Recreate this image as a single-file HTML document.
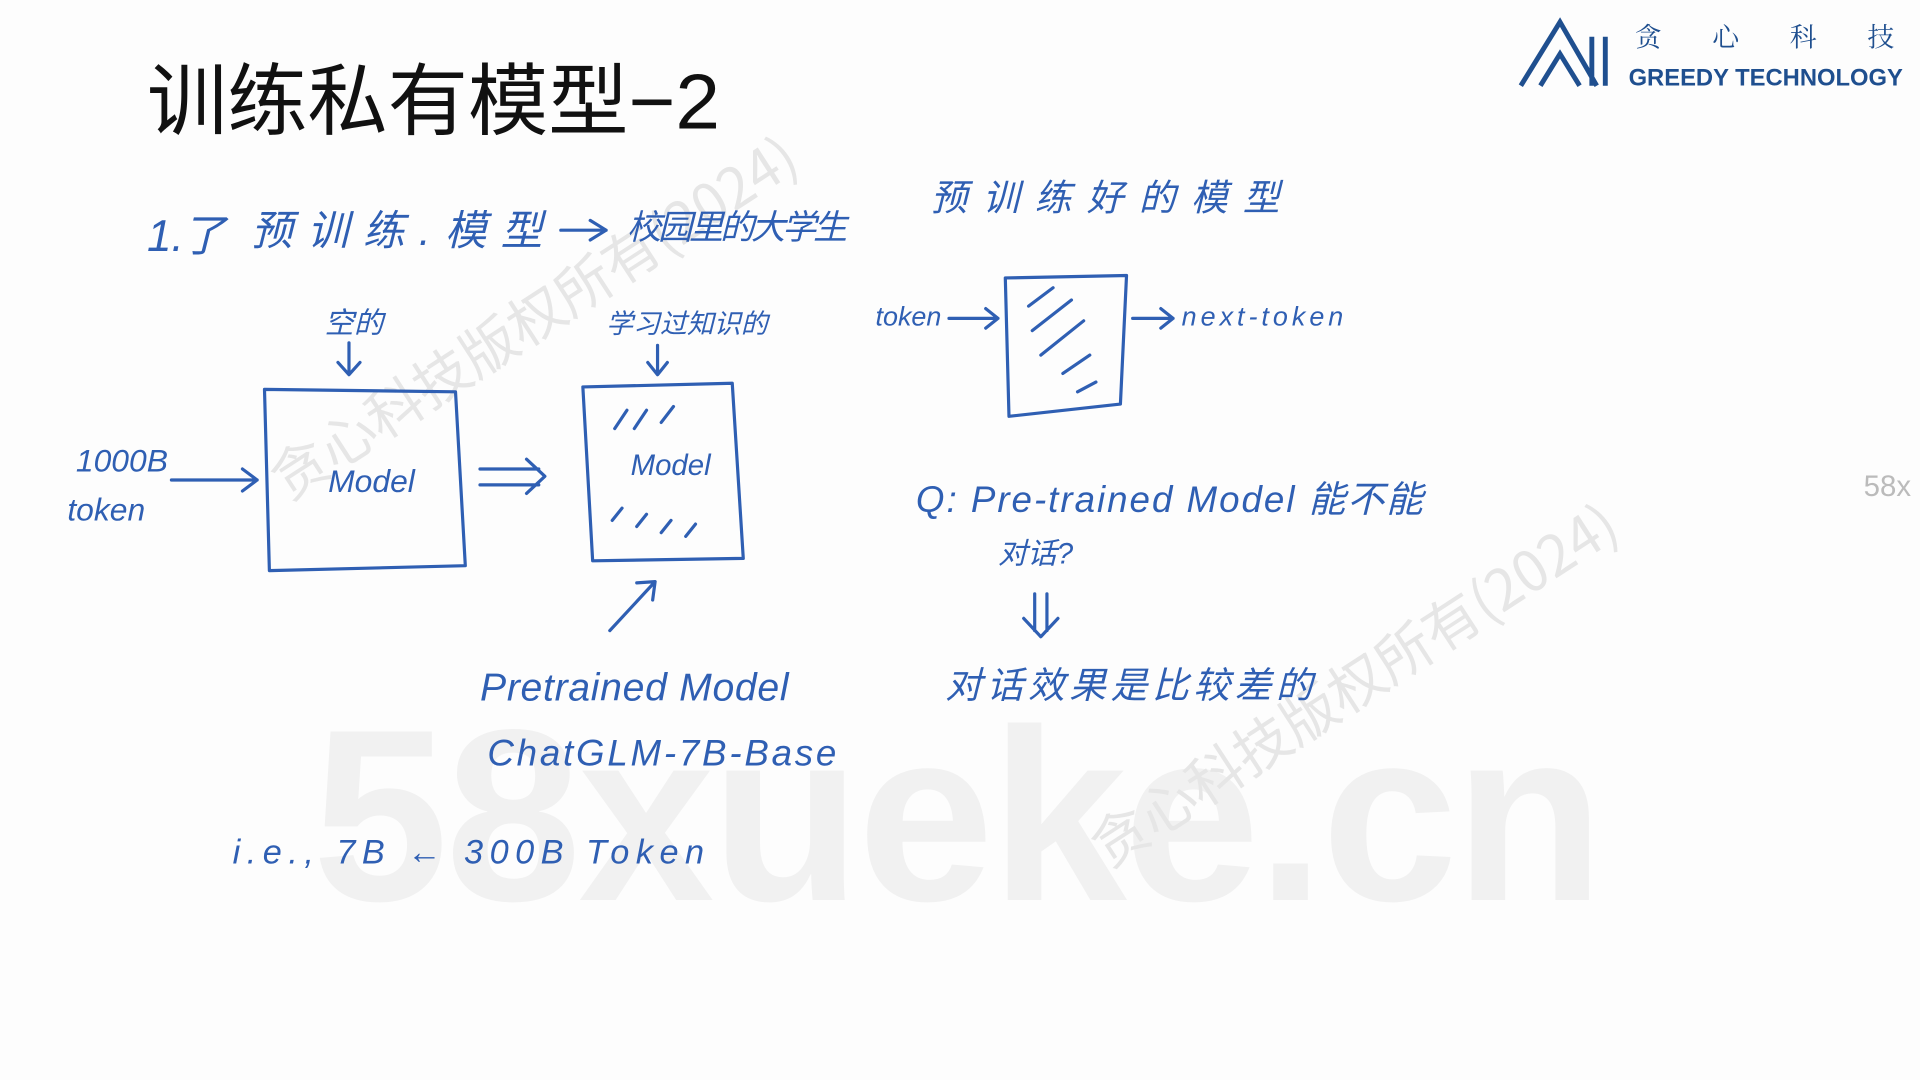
<!DOCTYPE html>
<html><head><meta charset="utf-8"><style>
html,body{margin:0;padding:0;background:#fdfdfd;overflow:hidden}
svg{display:block}
.h{fill:#2f5fb3;font-family:"Liberation Sans","Noto Sans CJK SC",sans-serif;font-style:italic}
.s{stroke:#2f5fb3;stroke-width:2.6;fill:none;stroke-linecap:round;stroke-linejoin:round}
</style></head><body>
<svg width="1920" height="1080" viewBox="0 0 1568 882" preserveAspectRatio="none" xmlns="http://www.w3.org/2000/svg">
<rect width="1568" height="882" fill="#fdfdfd"/>
<text x="255" y="735" font-family="Liberation Sans,sans-serif" font-weight="bold" font-size="200" fill="#f1f1f1" textLength="1055">58xueke.cn</text>
<text transform="translate(235,410) rotate(-33)" font-family="Noto Sans CJK SC,sans-serif" font-size="46" fill="#e6e6e6">贪心科技版权所有(2024)</text>
<text transform="translate(905,710) rotate(-33)" font-family="Noto Sans CJK SC,sans-serif" font-size="46" fill="#e6e6e6">贪心科技版权所有(2024)</text>
<text x="1522" y="405" font-family="Liberation Sans,sans-serif" font-size="24" fill="#bbb">58x</text>
<text x="120" y="105" font-family="Liberation Sans,Noto Sans CJK SC,sans-serif" font-size="64" fill="#111" textLength="468" lengthAdjust="spacingAndGlyphs">训练私有模型−2</text>
<!-- logo -->
<path d="M1242 70 L1274 18 L1304 70 M1258 70 L1274 44 L1290 70 M1300 70 L1300 30 M1311 70 L1311 30" stroke="#1f4f8f" stroke-width="4" fill="none"/>
<text x="1335" y="38" font-family="Noto Serif CJK SC,serif" font-size="22" fill="#1f4f8f" textLength="212">贪心科技</text>
<text x="1330" y="70" font-family="Liberation Sans,sans-serif" font-size="20" fill="#1f4f8f" font-weight="bold" textLength="224" lengthAdjust="spacingAndGlyphs">GREEDY TECHNOLOGY</text>
<!-- handwriting -->
<text class="h" x="120" y="205" font-size="36">1.</text>
<text class="h" x="148" y="205" font-size="36">了</text>
<text class="h" x="205" y="200" font-size="34" textLength="238">预训练.模型</text>
<path class="s" d="M458 188 L495 188 M482 180 L495 188 L482 196"/>
<text class="h" x="512" y="195" font-size="28" textLength="180">校园里的大学生</text>
<text class="h" x="760" y="172" font-size="30" textLength="285">预训练好的模型</text>
<text class="h" x="265" y="272" font-size="24">空的</text>
<path class="s" d="M285 280 L285 305 M276 296 L285 306 L294 296"/>
<text class="h" x="495" y="272" font-size="22">学习过知识的</text>
<path class="s" d="M537 282 L537 305 M529 296 L537 306 L545 296"/>
<text class="h" x="62" y="385" font-size="26">1000B</text>
<text class="h" x="55" y="425" font-size="26">token</text>
<path class="s" d="M140 392 L210 392 M198 383 L210 392 L198 401"/>
<path class="s" d="M216 318 L372 320 L380 462 L220 466 Z"/>
<text class="h" x="268" y="402" font-size="26">Model</text>
<path class="s" d="M392 383 L440 383 M392 396 L440 396 M430 375 L445 389 L430 403"/>
<path class="s" d="M476 316 L598 313 L607 456 L484 458 Z"/>
<text class="h" x="515" y="388" font-size="24">Model</text>
<path class="s" d="M502 350 L512 335 M518 350 L528 335 M540 345 L550 332 M500 425 L508 415 M520 430 L528 420 M540 435 L548 425 M560 438 L568 428"/>
<path class="s" d="M498 515 L535 475 M520 476 L535 475 L533 490"/>
<text class="h" x="392" y="572" font-size="32" textLength="252">Pretrained Model</text>
<text class="h" x="398" y="625" font-size="30" textLength="285">ChatGLM-7B-Base</text>
<text class="h" x="190" y="705" font-size="28" textLength="385">i.e., 7B ← 300B Token</text>
<text class="h" x="715" y="266" font-size="22">token</text>
<path class="s" d="M775 260 L815 260 M805 252 L815 260 L805 268"/>
<path class="s" d="M821 227 L920 225 L915 330 L824 340 Z"/>
<path class="s" d="M840 250 L860 235 M843 270 L875 245 M850 290 L885 262 M868 305 L890 290 M880 320 L895 312"/>
<path class="s" d="M925 260 L958 260 M948 252 L958 260 L948 268"/>
<text class="h" x="965" y="266" font-size="22" textLength="132">next-token</text>
<text class="h" x="748" y="418" font-size="30" textLength="414">Q:  Pre-trained  Model 能不能</text>
<text class="h" x="815" y="460" font-size="24">对话?</text>
<path class="s" d="M845 485 L845 515 M855 485 L855 515 M836 505 L850 520 L864 505"/>
<text class="h" x="772" y="570" font-size="30" textLength="300">对话效果是比较差的</text>
</svg>
</body></html>
